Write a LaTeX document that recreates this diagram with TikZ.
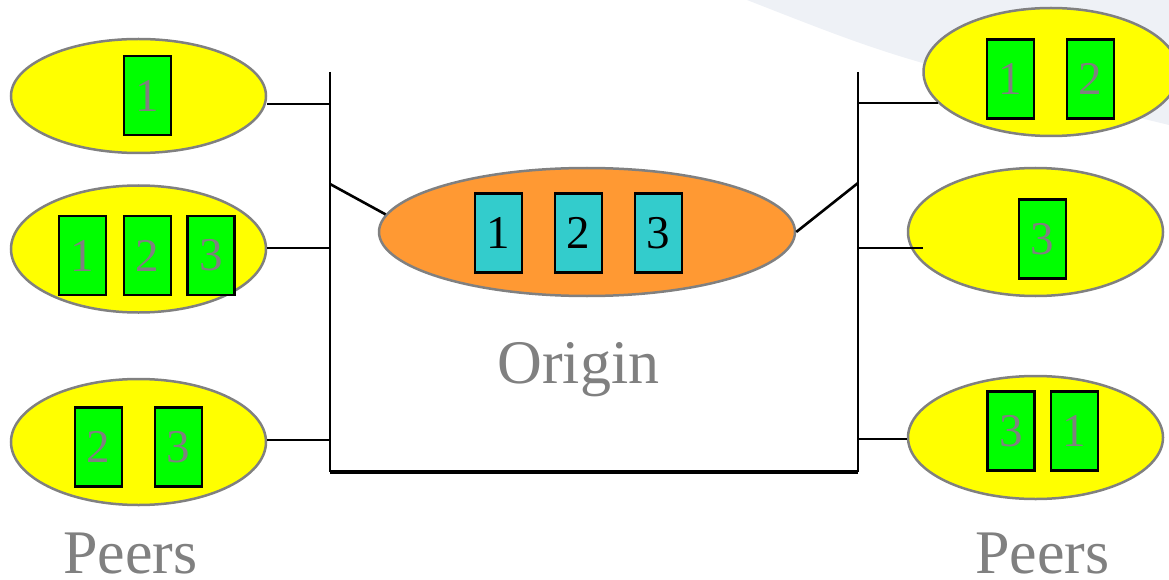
\documentclass[tikz,border=0pt]{standalone}
\usepackage{fontspec}
\setmainfont{Liberation Serif}
\usetikzlibrary{shapes.geometric,calc}
\definecolor{peerfill}{HTML}{FFFF00}
\definecolor{chunkgreen}{HTML}{00FF00}
\definecolor{chunkcyan}{HTML}{33CCCC}
\definecolor{originfill}{HTML}{FF9933}
\definecolor{outlinegrey}{HTML}{808080}
\definecolor{bgcurve}{HTML}{EEF1F6}
\tikzset{
  peer/.style={ellipse, draw=outlinegrey, line width=2.5pt, fill=peerfill, inner sep=0pt},
  originell/.style={ellipse, draw=outlinegrey, line width=2.5pt, fill=originfill, inner sep=0pt},
  chunk/.style={rectangle, draw=black, line width=2.5pt, fill=chunkgreen, inner sep=0pt,
    minimum width=47pt, minimum height=79pt, text=outlinegrey, font=\fontsize{47}{50}\selectfont},
  ochunk/.style={chunk, fill=chunkcyan, text=black},
  wire/.style={draw=black, line width=2.6pt},
  label/.style={text=outlinegrey, font=\fontsize{62}{66}\selectfont, inner sep=0pt, anchor=base}
}
\begin{document}
\begin{tikzpicture}[x=1pt,y=-1pt]
\useasboundingbox (0,0) rectangle (1169,580);
\fill[bgcurve] (747,0) .. controls (900,60) .. (1169,125) -- (1169,0) -- cycle;

% bus
\coordinate (LT) at (330,72);
\coordinate (LB) at (330,472);
\coordinate (RT) at (858,72);
\coordinate (RB) at (858,472);
\draw[wire] (LT) -- (LB);
\draw[wire] (RT) -- (RB);
\draw[black, line width=4pt] (LB) -- (RB);

% origin
\node[originell, minimum width=416pt, minimum height=128pt] (O) at (587,232) {};
\node[ochunk] (o1) at (498.5,233) {1};
\node[ochunk] (o2) at (578.5,233) {2};
\node[ochunk] (o3) at (658.5,233) {3};
\node[label] (origin) at (578.5,383) {Origin};

% left peers
\node[peer, minimum width=255pt, minimum height=114pt] (L1) at (138.5,96) {};
\node[chunk] (l1a) at (147.5,95.5) {1};
\node[peer, minimum width=255pt, minimum height=127pt] (L2) at (138.5,249) {};
\node[chunk] (l2a) at (82.5,255.5) {1};
\node[chunk] (l2b) at (147.5,255.5) {2};
\node[chunk] (l2c) at (211,255.5) {3};
\node[peer, minimum width=255pt, minimum height=126pt] (L3) at (138.5,442) {};
\node[chunk] (l3a) at (98.5,447) {2};
\node[chunk] (l3b) at (178.5,447) {3};
\node[label] (peersL) at (130.5,573) {Peers};

% right peers
\node[peer, minimum width=255pt, minimum height=128pt] (R1) at (1051,72) {};
\node[chunk] (r1a) at (1010.5,79) {1};
\node[chunk] (r1b) at (1090.5,79) {2};
\node[peer, minimum width=255pt, minimum height=128pt] (R2) at (1035.5,232) {};
\node[chunk] (r2a) at (1042.5,239) {3};
\node[peer, minimum width=255pt, minimum height=123pt] (R3) at (1035.5,437.5) {};
\node[chunk] (r3a) at (1011,431) {3};
\node[chunk] (r3b) at (1074.5,431) {1};
\node[label] (peersR) at (1042.5,573) {Peers};

% connector points on the bus
\coordinate (bL1) at (330,104);
\coordinate (bL2) at (330,248);
\coordinate (bL3) at (330,440);
\coordinate (bLO) at (330,184);
\coordinate (bRO) at (858,183);
\coordinate (bR1) at (858,103);
\coordinate (bR2) at (858,248);
\coordinate (bR3) at (858,439);
\coordinate (eR1) at (938,103);
\coordinate (eR2) at (923,248);

\draw[wire] (L1.east |- bL1) -- (bL1);
\draw[wire] (L2.east |- bL2) -- (bL2);
\draw[wire] (L3.east |- bL3) -- (bL3);
\draw[wire] (bLO) -- (O.175);
\draw[wire] (O.east) -- (bRO);
\draw[wire] (bR1) -- (eR1);
\draw[wire] (bR2) -- (eR2);
\draw[wire] (bR3) -- (R3.west |- bR3);
\end{tikzpicture}
\end{document}
